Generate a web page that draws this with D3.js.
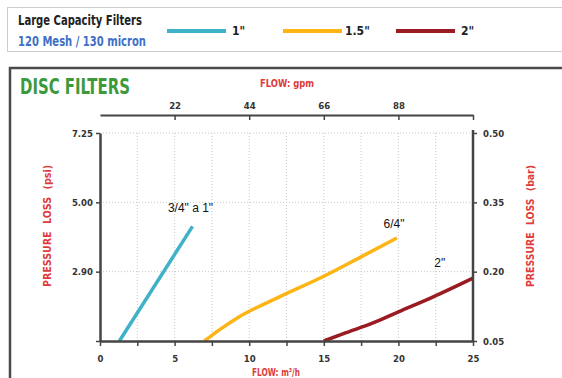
<!DOCTYPE html>
<html lang="en">
    <head>
        <meta charset="utf-8">
        <title>Disc filters</title>
        <script src="https://d3js.org/d3.v7.min.js"></script>
        <style type="text/css">
        body { margin: 0; background: #fff; }
        .cond { font-family: "Liberation Sans Narrow", "DejaVu Sans Condensed", sans-serif; font-weight: bold; }
        .tick text { font-family: "Liberation Sans Narrow", "DejaVu Sans Condensed", sans-serif; font-weight: bold; font-size: 9.5px; fill: #333; }
        .note { font-family: "Liberation Sans", sans-serif; font-size: 12px; fill: #111; }
        </style>
    </head>
    <body>
        <svg width="562" height="378"></svg>

    <script type="text/javascript">

            // series (flow m3/h, pressure loss bar)
            const seriesNames = ["1\"", "1.5\"", "2\""];
            const seriesColors = ["#3fb1c8", "#fdb515", "#9a1b22"];
            const line1 = [[1.3, 0.05], [6.2, 0.298]];
            const line15 = [[7.0, 0.05], [8.0, 0.074], [9.2, 0.100], [12.0, 0.145], [15.0, 0.190], [17.5, 0.232], [19.9, 0.273]];
            const line2 = [[15.0, 0.05], [16.5, 0.068], [18.3, 0.089], [20.0, 0.113], [22.3, 0.145], [25.0, 0.186]];
            const series = [line1, line15, line2];

            // annotations
            const noteTexts = ["3/4\" a 1\"", "6/4\"", "2\""];
            const noteAt = [[4.55, 0.329], [19.0, 0.295], [22.4, 0.210]];

            // ticks
            const xTicks = [0, 2.5, 5, 7.5, 10, 12.5, 15, 17.5, 20, 22.5, 25];
            const gpmTicks = [22, 44, 66, 88, 110];
            const barTicks = [0.05, 0.20, 0.35, 0.50];
            const psiLabels = ["", "2.90", "5.00", "7.25"];

            const svg = d3.select("svg");

            //Scales
            const xScale = d3.scaleLinear().domain([0, 25]).range([100, 473]);
            const gpmScale = d3.scaleLinear().domain([0, 110]).range([100, 473]);
            const yScale = d3.scaleLinear().domain([0.05, 0.5]).range([341, 133]);

            //Header box with legend
            svg.append("rect")
               .attr("x", 7.5).attr("y", 7.5)
               .attr("width", 570).attr("height", 44)
               .attr("fill", "none")
               .attr("stroke", "#9a9a9a")
               .attr("stroke-dasharray", "1,1");

            svg.append("text")
               .attr("class", "cond")
               .attr("x", 18).attr("y", 25)
               .attr("font-size", "14px")
               .attr("fill", "#222")
               .attr("textLength", 124)
               .attr("lengthAdjust", "spacingAndGlyphs")
               .text("Large Capacity Filters");

            svg.append("text")
               .attr("class", "cond")
               .attr("x", 18).attr("y", 46)
               .attr("font-size", "14px")
               .attr("fill", "#3f6fc6")
               .attr("textLength", 128)
               .attr("lengthAdjust", "spacingAndGlyphs")
               .text("120 Mesh / 130 micron");

            const legendX = [167, 283, 396];
            const legend = svg.selectAll(".legend")
                              .data(seriesNames)
                              .enter()
                              .append("g")
                              .attr("class", "legend")
                              .attr("transform", (d, i) => "translate(" + legendX[i] + ",31)");

            legend.append("line")
                  .attr("x1", 0).attr("x2", 59)
                  .attr("stroke", (d, i) => seriesColors[i])
                  .attr("stroke-width", 4);

            legend.append("text")
                  .attr("class", "cond")
                  .attr("x", (d, i) => i == 1 ? 62 : 65)
                  .attr("y", 4)
                  .attr("font-size", "12px")
                  .attr("fill", "#222")
                  .text(d => d);

            //Chart frame
            svg.append("rect")
               .attr("x", 10).attr("y", 68)
               .attr("width", 600).attr("height", 400)
               .attr("fill", "none")
               .attr("stroke", "#4a4a4a")
               .attr("stroke-width", 2.5);

            svg.append("text")
               .attr("class", "cond")
               .attr("x", 20).attr("y", 94)
               .attr("font-size", "21px")
               .attr("fill", "#3c9a3c")
               .attr("textLength", 110)
               .attr("lengthAdjust", "spacingAndGlyphs")
               .text("DISC FILTERS");

            //Grid
            svg.append("g")
               .selectAll("line")
               .data(xTicks.slice(1, -1))
               .enter()
               .append("line")
               .attr("x1", d => xScale(d)).attr("x2", d => xScale(d))
               .attr("y1", yScale(0.5)).attr("y2", yScale(0.05))
               .attr("stroke", "#c8c8c8")
               .attr("stroke-dasharray", "1,2");

            svg.append("g")
               .selectAll("line")
               .data(barTicks.slice(1))
               .enter()
               .append("line")
               .attr("x1", xScale(0)).attr("x2", xScale(25))
               .attr("y1", d => yScale(d)).attr("y2", d => yScale(d))
               .attr("stroke", "#c8c8c8")
               .attr("stroke-dasharray", "1,2");

            //Lines
            const line = d3.line()
                           .x(d => xScale(d[0]))
                           .y(d => yScale(d[1]))
                           .curve(d3.curveMonotoneX);

            svg.append("g")
               .selectAll("path")
               .data(series)
               .enter()
               .append("path")
               .attr("d", line)
               .attr("fill", "none")
               .attr("stroke", (d, i) => seriesColors[i])
               .attr("stroke-width", 3.5);

            //Axes
            const bottomAxis = d3.axisBottom(xScale)
                                 .tickValues(xTicks)
                                 .tickFormat(d => d % 5 == 0 ? d : "")
                                 .tickSizeInner(5).tickSizeOuter(0).tickPadding(9);

            const topAxis = d3.axisTop(gpmScale)
                              .tickValues(gpmTicks)
                              .tickFormat(d => d == 110 ? "" : d)
                              .tickSizeInner(-5).tickSizeOuter(0).tickPadding(6);

            const leftAxis = d3.axisLeft(yScale)
                               .tickValues(barTicks)
                               .tickFormat((d, i) => psiLabels[i])
                               .tickSizeInner(4).tickSizeOuter(0).tickPadding(3);

            const rightAxis = d3.axisRight(yScale)
                                .tickValues(barTicks)
                                .tickFormat(d3.format(".2f"))
                                .tickSizeInner(4).tickSizeOuter(0).tickPadding(6);

            const gTop = svg.append("g").attr("transform", "translate(0,115)").call(topAxis);
            const gLeft = svg.append("g").attr("transform", "translate(100,0)").call(leftAxis);
            const gRight = svg.append("g").attr("transform", "translate(473,0)").call(rightAxis);
            const gBottom = svg.append("g").attr("transform", "translate(0,341)").call(bottomAxis);

            [gTop, gLeft, gRight, gBottom].forEach(g => {
                g.select(".domain").attr("stroke", "#444").attr("stroke-width", 2.5);
                g.selectAll(".tick line").attr("stroke", "#444").attr("stroke-width", 1.5);
            });
            gTop.select(".domain").attr("stroke-width", 2);
            gRight.select(".domain").attr("d", "M0," + 130 + "V" + 341);

            //Axis titles
            svg.append("text")
               .attr("class", "cond")
               .attr("x", 287).attr("y", 87)
               .attr("text-anchor", "middle")
               .attr("font-size", "10px")
               .attr("fill", "#e03b3b")
               .attr("textLength", 54)
               .attr("lengthAdjust", "spacingAndGlyphs")
               .text("FLOW: gpm");

            svg.append("text")
               .attr("class", "cond")
               .attr("x", 276).attr("y", 376)
               .attr("text-anchor", "middle")
               .attr("font-size", "10px")
               .attr("fill", "#e03b3b")
               .attr("textLength", 48)
               .attr("lengthAdjust", "spacingAndGlyphs")
               .text("FLOW: m³/h");

            svg.append("text")
               .attr("class", "cond")
               .attr("transform", "translate(51,226) rotate(-90)")
               .attr("text-anchor", "middle")
               .attr("font-size", "10px")
               .attr("word-spacing", "4px")
               .attr("fill", "#e03b3b")
               .attr("textLength", 122)
               .attr("lengthAdjust", "spacingAndGlyphs")
               .text("PRESSURE LOSS (psi)");

            svg.append("text")
               .attr("class", "cond")
               .attr("transform", "translate(534,226) rotate(-90)")
               .attr("text-anchor", "middle")
               .attr("font-size", "10px")
               .attr("word-spacing", "4px")
               .attr("fill", "#e03b3b")
               .attr("textLength", 122)
               .attr("lengthAdjust", "spacingAndGlyphs")
               .text("PRESSURE LOSS (bar)");

            //Notes
            svg.append("g")
               .selectAll("text")
               .data(noteTexts)
               .enter()
               .append("text")
               .attr("class", "note")
               .attr("x", (d, i) => xScale(noteAt[i][0]))
               .attr("y", (d, i) => yScale(noteAt[i][1]))
               .text(d => d);
        </script>
    </body>
</html>
